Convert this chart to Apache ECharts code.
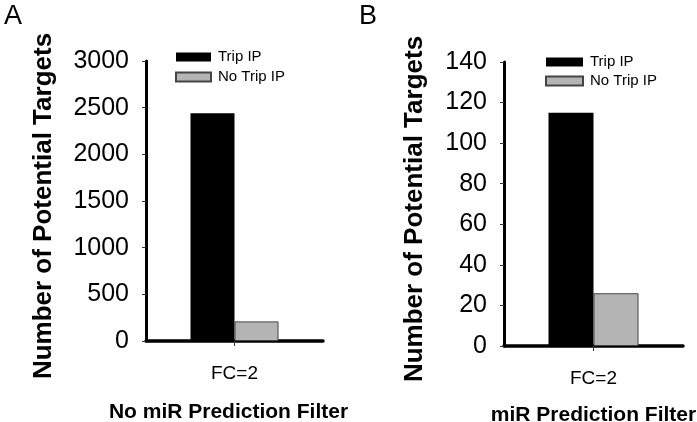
<!DOCTYPE html>
<html>
<head>
<meta charset="utf-8">
<script src="https://cdn.jsdelivr.net/npm/echarts@6/dist/echarts.min.js"></script>
<style>html,body{margin:0;padding:0;background:#fff;}#c{width:697px;height:422px;}</style>
</head>
<body>
<div id="c"></div>
<script>
// ---- data ----
const categories = ['FC=2'];
const seriesNames = ['Trip IP', 'No Trip IP'];
const tripA = [2440];
const noTripA = [210];
const tripB = [115];
const noTripB = [26];
const panelLabels = ['A', 'B'];
const xTitles = ['No miR Prediction Filter', 'miR Prediction Filter'];
const yTitle = 'Number of Potential Targets';
const yMaxA = 3000, yStepA = 500;
const yMaxB = 140, yStepB = 20;

const FONT = '"Liberation Sans", Arial, Helvetica, sans-serif';
const chart = echarts.init(document.getElementById('c'), null, {renderer: 'canvas'});

function xAxisCfg(gridIndex, title, nameGap, pad) {
  return {
    type: 'category', gridIndex: gridIndex, data: categories,
    axisLine: {lineStyle: {color: '#000', width: 3.5}},
    axisTick: {show: true, alignWithLabel: true, length: 5, lineStyle: {color: '#333', width: 1}},
    axisLabel: {color: '#000', fontSize: 19, fontFamily: FONT, margin: 23},
    name: title, nameLocation: 'middle', nameGap: nameGap,
    nameTextStyle: {color: '#000', fontSize: 21, fontWeight: 'bold', fontFamily: FONT, padding: pad}
  };
}
function yAxisCfg(gridIndex, max, step, nameGap) {
  return {
    type: 'value', gridIndex: gridIndex, min: 0, max: max, interval: step,
    axisLine: {show: true, lineStyle: {color: '#000', width: 3}},
    axisTick: {show: true, length: 4, lineStyle: {color: '#333', width: 1}},
    splitLine: {show: false},
    axisLabel: {color: '#000', fontSize: 25, fontFamily: FONT, margin: 17, formatter: function (v) { return String(v); }},
    name: yTitle, nameLocation: 'middle', nameRotate: 90, nameGap: nameGap,
    nameTextStyle: {color: '#000', fontSize: 26, fontWeight: 'bold', fontFamily: FONT, padding: [0, 10, 0, 0]}
  };
}
function legendCfg(left, top, gap, w, h) {
  return {
    data: seriesNames, orient: 'vertical', left: left, top: top,
    itemWidth: w, itemHeight: h, itemGap: gap, icon: 'rect',
    textStyle: {color: '#000', fontSize: 15, fontFamily: FONT, padding: [0, 0, 0, 2]},
    selectedMode: false
  };
}
const blackStyle = {color: '#000'};
const grayStyle = {color: '#b4b4b4', borderColor: '#444', borderWidth: 1};

chart.setOption({
  animation: false,
  backgroundColor: '#fff',
  title: [
    {text: panelLabels[0], left: -1, top: -2, textStyle: {fontSize: 27, fontWeight: 'normal', color: '#000', fontFamily: FONT}},
    {text: panelLabels[1], left: 354, top: -2, textStyle: {fontSize: 27, fontWeight: 'normal', color: '#000', fontFamily: FONT}}
  ],
  legend: [legendCfg(170, 44.5, 5, 35, 9), legendCfg(540, 49.5, 4, 37, 9)],
  grid: [
    {left: 146, top: 61, width: 177, height: 280, containLabel: false, outerBoundsMode: 'none'},
    {left: 504, top: 62, width: 179, height: 284, containLabel: false, outerBoundsMode: 'none'}
  ],
  xAxis: [xAxisCfg(0, xTitles[0], 61, [0, 12, 0, 0]), xAxisCfg(1, xTitles[1], 59, 0)],
  yAxis: [yAxisCfg(0, yMaxA, yStepA, 89), yAxisCfg(1, yMaxB, yStepB, 76)],
  series: [
    {type: 'bar', name: seriesNames[0], xAxisIndex: 0, yAxisIndex: 0, data: tripA, barWidth: 44, barGap: '0%', itemStyle: blackStyle},
    {type: 'bar', name: seriesNames[1], xAxisIndex: 0, yAxisIndex: 0, data: noTripA, barWidth: 44, barGap: '0%', itemStyle: grayStyle},
    {type: 'bar', name: seriesNames[0], xAxisIndex: 1, yAxisIndex: 1, data: tripB, barWidth: 45, barGap: '0%', itemStyle: blackStyle},
    {type: 'bar', name: seriesNames[1], xAxisIndex: 1, yAxisIndex: 1, data: noTripB, barWidth: 45, barGap: '0%', itemStyle: grayStyle}
  ]
});
</script>
</body>
</html>
